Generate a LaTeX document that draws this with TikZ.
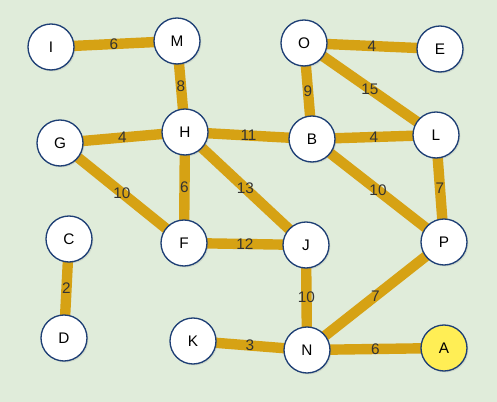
\documentclass[tikz,border=0pt]{standalone}
\usepackage{fontspec}
\setmainfont{Liberation Sans}
\usetikzlibrary{shadows}
\definecolor{bgreen}{HTML}{E0ECDA}
\definecolor{gold}{HTML}{D6A214}
\definecolor{rim}{HTML}{1E3F75}
\definecolor{hilite}{HTML}{FFEE55}
\definecolor{wgt}{HTML}{333333}
\pgfdeclarelayer{back}
\pgfdeclarelayer{links}
\pgfsetlayers{back,links,main}
\begin{document}
\begin{tikzpicture}[x=0.75pt,y=-0.75pt,font=\fontsize{11.5}{12}\selectfont,
  vert/.style={circle,draw=rim,line width=1pt,fill=white,minimum size=34.5pt,inner sep=0pt,
    drop shadow={opacity=.2,shadow xshift=1pt,shadow yshift=-1pt}},
  link/.style={draw=gold,line width=7.8pt},
  wlab/.style={text=wgt,inner sep=0pt}]
\begin{pgfonlayer}{back}
\fill[bgreen] (0,0) rectangle (497,402);
\end{pgfonlayer}
\useasboundingbox (0,0) rectangle (497,402);
\foreach \n/\x/\y in {I/51/47,M/177/41,O/304/43,E/440/49,G/60/143,H/185/132,B/312/139,L/436/135,
  C/69/239,F/184/243,J/306/245,P/444/242,D/64/338,K/193/341,N/307/350}{
 \node[vert] (\n) at (\x,\y) {\n};
}
\node[vert,fill=hilite] (A) at (444,348) {A};
\begin{pgfonlayer}{links}
\foreach \a/\b/\w in {I/M/6,M/H/8,O/E/4,O/B/9,O/L/15,G/H/4,H/B/11,B/L/4,G/F/10,H/F/6,H/J/13,
  B/P/10,L/P/7,F/J/12,C/D/2,J/N/10,P/N/7,K/N/3,N/A/6}{
 \path[link] (\a.center) -- (\b.center) node[wlab,midway] {\w};
}
\end{pgfonlayer}
\end{tikzpicture}
\end{document}
